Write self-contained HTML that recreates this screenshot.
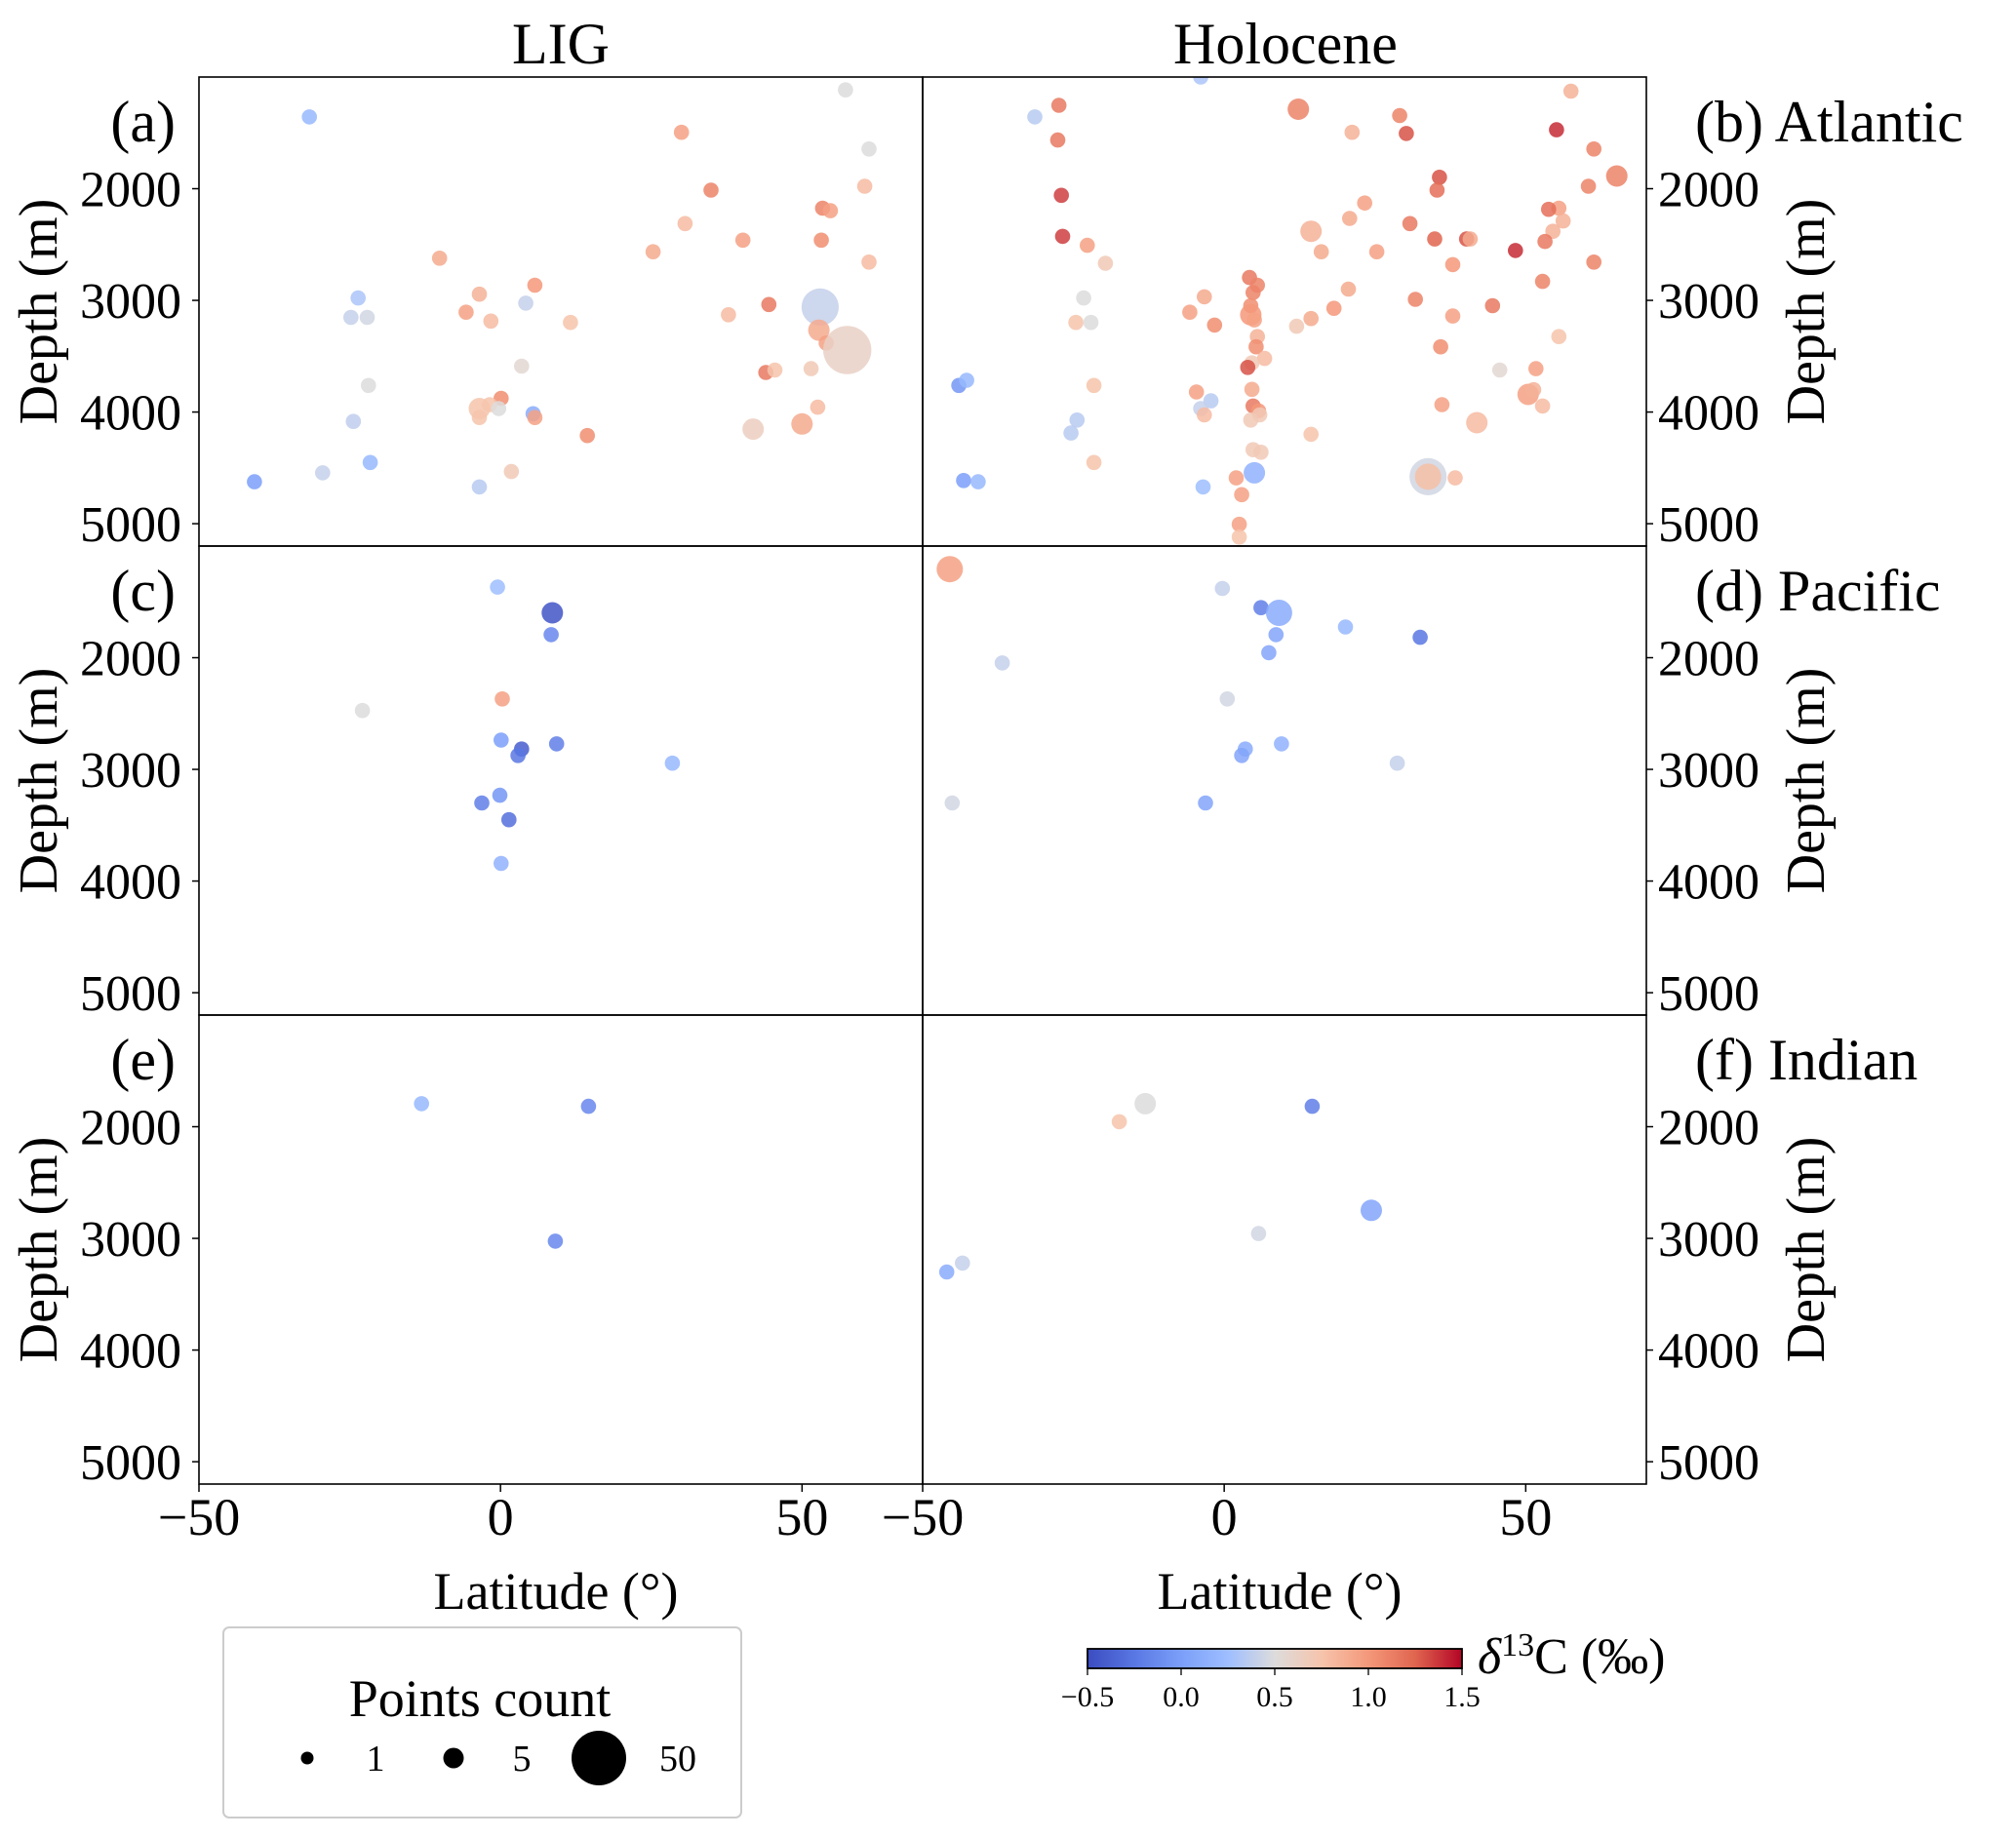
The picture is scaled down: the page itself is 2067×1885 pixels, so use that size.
<!DOCTYPE html>
<html><head><meta charset="utf-8"><style>
html,body{margin:0;padding:0;background:#fff;}
svg{display:block;font-family:"Liberation Serif",serif;}
</style></head><body>
<svg id="fig" width="2067" height="1885" viewBox="0 0 2067 1885" xmlns="http://www.w3.org/2000/svg">
<defs>
<linearGradient id="cmapgrad" x1="0" x2="1" y1="0" y2="0">
<stop offset="0" stop-color="#3b4cc0"/><stop offset="0.125" stop-color="#5977e3"/><stop offset="0.25" stop-color="#7b9ff9"/><stop offset="0.375" stop-color="#9ebeff"/><stop offset="0.5" stop-color="#dddcdc"/><stop offset="0.625" stop-color="#f6c4ac"/><stop offset="0.75" stop-color="#f4987a"/><stop offset="0.875" stop-color="#e0654f"/><stop offset="1" stop-color="#b40426"/>
</linearGradient>
</defs>
<g id="layer"></g>
</svg>
<script>
// ---- data: per panel arrays (latitude, depth m, d13C permil, points count) ----
const aLat=[57.2,-31.7,30,61.1,34.9,60.4,53.4,54.7,30.6,40.2,53.2,25.3,61.1,-10.1,5.7,-3.5,-23.6,4.2,-5.7,-24.8,-22.1,-1.6,11.6,44.5,37.8,53,52.8,54,57.5,3.5,44,45.5,51.5,-21.9,0.1,-1.8,-0.3,-3.5,-3.5,5.4,5.7,14.4,41.9,50,52.6,-24.4,-21.6,-29.5,-40.8,1.8,-3.5];
const aDepth=[1115,1357,1495,1644,2013,1978,2174,2197,2312,2461,2461,2565,2657,2622,2864,2945,2979,3025,3106,3152,3152,3186,3198,3037,3129,3060,3267,3382,3445,3589,3646,3624,3612,3762,3877,3934,3969,3969,4049,4015,4049,4211,4153,4107,3957,4084,4452,4544,4625,4533,4671];
const aVal=[0.5,0.2,0.95,0.5,1.1,0.8,1.1,0.95,0.8,0.95,1.05,0.9,0.8,0.9,1.0,0.85,0.3,0.4,0.95,0.4,0.45,0.8,0.75,1.15,0.8,0.4,0.9,0.95,0.62,0.55,1.15,0.75,0.7,0.5,1.05,0.75,0.5,0.75,0.75,0.1,0.95,1.05,0.65,0.9,0.8,0.38,0.2,0.4,0.0,0.7,0.35];
const aCount=[1,1,1,1,1,1,1,1,1,1,1,1,1,1,1,1,1,1,1,1,1,1,1,1,1,6,2,1,10,1,1,1,1,1,1,1,1,2,1,1,1,1,2,2,1,1,1,1,1,1,1];

const bLat=[-3.9,-27.4,-31.4,12.3,29.1,21.2,30.2,57.5,55.1,61.3,-27.6,35.7,65.1,-27,35.3,60.4,23.3,55.5,53.8,56.2,20.8,14.4,30.8,34.9,40.2,40.8,54.5,53.2,48.3,61.3,-26.8,-22.7,-19.7,16.1,25.3,37.9,20.6,52.8,4.2,5.5,4.8,4.4,4.4,5,-3.3,-5.7,-1.6,14.4,18.2,12,31.7,37.9,44.5,-23.3,-24.6,-22.1,5.5,5.3,6.7,4.6,3.9,55.5,35.9,45.7,51.7,-44,-42.7,-21.6,-4.6,4.6,-2.2,-3.9,-3.3,4.8,5.7,5.9,4.4,36.1,50.4,51.3,52.8,41.9,-24.4,-25.4,14.4,-21.6,4.8,6.1,5,2,33.8,33.8,38.3,-43.2,-40.8,-3.5,2.9,2.5,2.5];
const bDepth=[1000,1253,1357,1288,1345,1495,1506,1127,1472,1644,1564,1898,1886,2059,2013,1978,2128,2174,2185,2289,2266,2381,2312,2450,2450,2450,2381,2473,2553,2657,2427,2507,2668,2565,2565,2680,2899,2830,2795,2864,2930,3048,3129,3175,2968,3106,3221,3163,3071,3232,2991,3140,3048,2979,3198,3198,3324,3416,3520,3560,3600,3324,3416,3624,3612,3762,3716,3762,3820,3797,3900,3969,4026,3946,3990,4026,4072,3934,3842,3800,3946,4095,4072,4188,4199,4452,4337,4360,4544,4590,4579,4579,4590,4613,4625,4671,4740,5005,5120];
const bVal=[0.3,1.15,0.35,1.1,1.1,0.85,1.3,0.85,1.4,1.1,1.15,1.3,1.1,1.35,1.2,1.1,0.95,0.95,1.2,0.85,0.9,0.85,1.15,1.25,1.3,0.9,0.85,1.15,1.4,1.1,1.35,0.95,0.7,0.9,0.95,1.0,0.9,1.1,1.15,1.1,1.1,1.05,1.0,0.95,0.9,0.95,1.05,0.9,1.0,0.7,1.1,0.95,1.15,0.5,0.75,0.5,0.85,1.05,0.8,0.7,1.3,0.75,1.05,0.55,0.95,-0.05,0.2,0.75,0.95,0.9,0.35,0.4,0.8,1.15,1.0,0.7,0.7,0.95,0.95,0.85,0.8,0.8,0.35,0.35,0.75,0.75,0.7,0.7,0.15,0.95,0.45,0.78,0.8,0.0,0.2,0.25,0.95,0.95,0.75];
const bCount=[1,1,1,2,1,1,1,1,1,1,1,1,2,1,1,1,1,1,1,1,1,2,1,1,1,1,1,1,1,1,1,1,1,1,1,1,1,1,1,1,1,1,2,1,1,1,1,1,1,1,1,1,1,1,1,1,1,1,1,1,1,1,1,1,1,1,1,1,1,1,1,1,1,1,1,1,1,1,2,1,1,2,1,1,1,1,1,1,2,1,6,3,1,1,1,1,1,1,1];

const cLat=[-0.5,8.6,8.4,-22.9,0.3,0.1,3.5,2.9,9.3,28.5,-0.1,-3.1,1.4,0.1];
const cDepth=[1368,1598,1794,2473,2369,2738,2818,2876,2772,2945,3232,3301,3451,3842];
const cVal=[0.25,-0.45,-0.15,0.5,0.95,0.0,-0.4,-0.25,-0.2,0.2,-0.05,-0.2,-0.3,0.15];
const cCount=[1,2,1,1,1,1,1,1,1,1,1,1,1,1];

const dLat=[-45.5,-0.3,6.1,9.1,8.6,20.1,32.5,7.4,-36.8,0.5,3.5,2.9,9.5,28.7,-45.1,-3.1];
const dDepth=[1207,1380,1552,1598,1794,1725,1817,1955,2047,2369,2818,2876,2772,2945,3301,3301];
const dVal=[0.95,0.4,-0.2,0.1,0.05,0.2,-0.25,0.05,0.4,0.45,0.1,0.05,0.15,0.4,0.45,0.05];
const dCount=[3,1,1,3,1,1,1,1,1,1,1,1,1,1,1,1];

const eLat=[-13.1,14.6,9.1];
const eDepth=[1794,1817,3025];
const eVal=[0.2,-0.15,-0.15];
const eCount=[1,1,1];

const fLat=[-13.1,-17.4,14.6,24.4,5.7,-46,-43.4];
const fDepth=[1794,1955,1817,2749,2957,3301,3221];
const fVal=[0.5,0.75,-0.2,0.05,0.45,0.1,0.4];
const fCount=[2,1,1,2,1,1,1];

const depthTicks=[2000,3000,4000,5000];
const latTicks=[-50,0,50];
const cbarTicks=[-0.5,0.0,0.5,1.0,1.5];
const cbarTickLabels=["\u22120.5","0.0","0.5","1.0","1.5"];
const legendCounts=[1,5,50];

// ---- layout ----
const NS="http://www.w3.org/2000/svg";
const layer=document.getElementById('layer');
const colX=[204,946], PW=742, rowY=[79,560,1041], PH=481;
const LAT0=-50,LAT1=70,D0=1000,D1=5200,V0=-0.5,V1=1.5;
function xs(col,lat){return colX[col]+(lat-LAT0)/(LAT1-LAT0)*PW;}
function ys(row,d){return rowY[row]+(d-D0)/(D1-D0)*PH;}
function rs(c){return 7.8*Math.sqrt(c);}
const stops=[[0,[59,76,192]],[0.125,[89,119,227]],[0.25,[123,159,249]],[0.375,[158,190,255]],[0.5,[221,220,220]],[0.625,[246,196,172]],[0.75,[244,152,122]],[0.875,[224,101,79]],[1,[180,4,38]]];
function cmap(v){let t=Math.max(0,Math.min(1,(v-V0)/(V1-V0)));
 for(let i=1;i<stops.length;i++){if(t<=stops[i][0]){const a=stops[i-1],b=stops[i];const f=(t-a[0])/(b[0]-a[0]);
 const c=a[1].map((x,k)=>Math.round(x+(b[1][k]-x)*f));return `rgb(${c[0]},${c[1]},${c[2]})`;}}return 'rgb(180,4,38)';}
function mk(tag,attrs,parent){const e=document.createElementNS(NS,tag);for(const k in attrs)e.setAttribute(k,attrs[k]);(parent||layer).appendChild(e);return e;}
function txt(s,x,y,size,anchor,parent){const e=mk('text',{x:x,y:y,'font-size':size,'text-anchor':anchor||'middle',fill:'#000'},parent);e.textContent=s;return e;}

const panels=[
 {row:0,col:0,lat:aLat,dep:aDepth,val:aVal,cnt:aCount,name:'panel-a-lig-atlantic'},
 {row:0,col:1,lat:bLat,dep:bDepth,val:bVal,cnt:bCount,name:'panel-b-holocene-atlantic'},
 {row:1,col:0,lat:cLat,dep:cDepth,val:cVal,cnt:cCount,name:'panel-c-lig-pacific'},
 {row:1,col:1,lat:dLat,dep:dDepth,val:dVal,cnt:dCount,name:'panel-d-holocene-pacific'},
 {row:2,col:0,lat:eLat,dep:eDepth,val:eVal,cnt:eCount,name:'panel-e-lig-indian'},
 {row:2,col:1,lat:fLat,dep:fDepth,val:fVal,cnt:fCount,name:'panel-f-holocene-indian'}];

const defs=document.querySelector('defs');
panels.forEach((p,i)=>{
 const cp=mk('clipPath',{id:'clip'+i},defs);
 mk('rect',{x:colX[p.col],y:rowY[p.row],width:PW,height:PH},cp);
 const g=mk('g',{'clip-path':'url(#clip'+i+')'});
 
 
 for(let k=0;k<p.lat.length;k++){
  const c=mk('circle',{cx:xs(p.col,p.lat[k]).toFixed(1),cy:ys(p.row,p.dep[k]).toFixed(1),r:rs(p.cnt[k]).toFixed(1),fill:cmap(p.val[k]),'fill-opacity':0.85},g);
  
  
 }
 const fr=mk('rect',{x:colX[p.col],y:rowY[p.row],width:PW,height:PH,fill:'none',stroke:'#000','stroke-width':1.6});
 
 
});

// y ticks
for(let r=0;r<3;r++){
 depthTicks.forEach(d=>{
  const y=ys(r,d);
  mk('line',{x1:colX[0]-7,x2:colX[0],y1:y,y2:y,stroke:'#000','stroke-width':1.5});
  const t=txt(String(d),186,y+18,52,'end');
  
  
  const xr=colX[1]+PW;
  mk('line',{x1:xr,x2:xr+7,y1:y,y2:y,stroke:'#000','stroke-width':1.5});
  const t2=txt(String(d),1700,y+18,52,'start');
  
  
 });
 const yc=rowY[r]+PH/2;
 const yl=txt('Depth (m)',0,0,56,'middle');
 yl.setAttribute('transform',`translate(58,${yc}) rotate(-90)`);
 
 
 const yr=txt('Depth (m)',0,0,56,'middle');
 yr.setAttribute('transform',`translate(1870,${yc}) rotate(-90)`);
 
 
}
// x ticks
const yb=rowY[2]+PH;
for(let c=0;c<2;c++){
 latTicks.forEach(l=>{
  const x=xs(c,l);
  mk('line',{x1:x,x2:x,y1:yb,y2:yb+8,stroke:'#000','stroke-width':1.5});
  const t=txt(l<0?'\u2212'+Math.abs(l):String(l),x,1574,54,'middle');
  
  
 });
 const xl=txt('Latitude (\u00b0)',colX[c]+PW/2-5,1650,54,'middle');
 
 
}
// titles
[['LIG',575,'title-lig'],['Holocene',1318,'title-holocene']].forEach(a=>{
 const t=txt(a[0],a[1],65,60,'middle');
 
 
});
// panel labels
const leftLabels=['(a)','(c)','(e)'], rightLabels=['(b) Atlantic','(d) Pacific','(f) Indian'];
for(let r=0;r<3;r++){
 const t=txt(leftLabels[r],180,rowY[r]+66,60,'end');
 
 
 const t2=txt(rightLabels[r],1738,rowY[r]+66,60,'start');
 
 
}
// size legend
const lg=mk('g',{});


mk('rect',{x:229,y:1669,width:531,height:195,rx:6,fill:'#fff',stroke:'#cccccc','stroke-width':2},lg);
txt('Points count',492,1760,54,'middle',lg);
const legR=[6.5,10.5,28], legX=[315,465,614], legLX=[385,535,695];
legendCounts.forEach((c,i)=>{
 const m=mk('circle',{cx:legX[i],cy:1803,r:legR[i],fill:'#000'},lg);
 
 
 const t=txt(String(c),legLX[i],1816,38,'middle',lg);
 
 
});
// colorbar
const cb=mk('g',{});


const CB0=1115, CB1=1499;
mk('rect',{x:CB0,y:1691,width:CB1-CB0,height:20,fill:'url(#cmapgrad)',stroke:'#000','stroke-width':1.8},cb);
cbarTicks.forEach((v,i)=>{
 const x=CB0+(v-V0)/(V1-V0)*(CB1-CB0);
 mk('line',{x1:x,x2:x,y1:1711,y2:1718,stroke:'#000','stroke-width':1.3},cb);
 const t=txt(cbarTickLabels[i],x,1750,30,'middle',cb);
 
 
});
const ct=mk('text',{x:1515,y:1716,'font-size':52,fill:'#000'},cb);
ct.innerHTML='<tspan font-style="italic">\u03b4</tspan><tspan baseline-shift="super" font-size="34">13</tspan>C (\u2030)';


</script>
</body></html>
